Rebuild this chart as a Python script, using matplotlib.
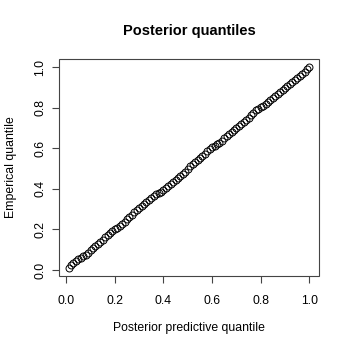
import matplotlib
matplotlib.use("Agg")
import matplotlib.pyplot as plt

plt.rcParams['font.family'] = ['Liberation Sans', 'DejaVu Sans']

predictive_q = [0.01, 0.02, 0.03, 0.04, 0.05, 0.06, 0.07, 0.08, 0.09, 0.10,
                0.11, 0.12, 0.13, 0.14, 0.15, 0.16, 0.17, 0.18, 0.19, 0.20,
                0.21, 0.22, 0.23, 0.24, 0.25, 0.26, 0.27, 0.28, 0.29, 0.30,
                0.31, 0.32, 0.33, 0.34, 0.35, 0.36, 0.37, 0.38, 0.39, 0.40,
                0.41, 0.42, 0.43, 0.44, 0.45, 0.46, 0.47, 0.48, 0.49, 0.50,
                0.51, 0.52, 0.53, 0.54, 0.55, 0.56, 0.57, 0.58, 0.59, 0.60,
                0.61, 0.62, 0.63, 0.64, 0.65, 0.66, 0.67, 0.68, 0.69, 0.70,
                0.71, 0.72, 0.73, 0.74, 0.75, 0.76, 0.77, 0.78, 0.79, 0.80,
                0.81, 0.82, 0.83, 0.84, 0.85, 0.86, 0.87, 0.88, 0.89, 0.90,
                0.91, 0.92, 0.93, 0.94, 0.95, 0.96, 0.97, 0.98, 0.99, 1.00]

empirical_q = [0.010, 0.025, 0.035, 0.045, 0.052, 0.060, 0.068, 0.076, 0.086, 0.097,
               0.108, 0.118, 0.128, 0.139, 0.150, 0.162, 0.172, 0.183, 0.192, 0.200,
               0.207, 0.215, 0.226, 0.238, 0.250, 0.262, 0.272, 0.284, 0.294, 0.305,
               0.314, 0.324, 0.334, 0.345, 0.355, 0.364, 0.372, 0.378, 0.386, 0.395,
               0.404, 0.412, 0.422, 0.432, 0.442, 0.452, 0.462, 0.472, 0.484, 0.498,
               0.510, 0.520, 0.530, 0.540, 0.552, 0.563, 0.573, 0.584, 0.594, 0.604,
               0.612, 0.620, 0.628, 0.638, 0.648, 0.658, 0.668, 0.678, 0.688, 0.698,
               0.708, 0.718, 0.728, 0.738, 0.750, 0.762, 0.775, 0.786, 0.794, 0.802,
               0.810, 0.818, 0.828, 0.838, 0.848, 0.858, 0.868, 0.878, 0.888, 0.898,
               0.908, 0.918, 0.928, 0.938, 0.948, 0.958, 0.968, 0.978, 0.990, 1.000]

ticks = [0.0, 0.2, 0.4, 0.6, 0.8, 1.0]
tick_labels = ["0.0", "0.2", "0.4", "0.6", "0.8", "1.0"]

fig = plt.figure(figsize=(3.5, 3.5), dpi=100)
ax = fig.add_axes([59/350, 74/350, 260/350, 217/350])

ax.plot(predictive_q, empirical_q, linestyle='none', marker='o', markersize=5,
        markerfacecolor='none', markeredgecolor='black', markeredgewidth=0.7)

def rng(v):
    lo, hi = min(v), max(v)
    d = (hi - lo) * 0.04
    return lo - d, hi + d

ax.set_xlim(*rng(predictive_q))
ax.set_ylim(*rng(empirical_q))

for s in ax.spines.values():
    s.set_visible(False)
ax.add_patch(plt.Rectangle((0, 0), 1, 1, transform=ax.transAxes, fill=False,
                           edgecolor='#444444', linewidth=0.8, clip_on=False))

ax.set_xticks(ticks)
ax.set_xticklabels(tick_labels)
ax.set_yticks(ticks)
ax.set_yticklabels(tick_labels, rotation=90, va='center')
ax.tick_params(axis='both', direction='out', length=5.2, width=0.8, color='#444444',
               labelsize=8.8)
ax.tick_params(axis='x', pad=8.2)
ax.tick_params(axis='y', pad=4)

ax.set_title("Posterior quantiles", fontsize=10.5, fontweight='bold', pad=17)
ax.set_xlabel("Posterior predictive quantile", fontsize=8.8, labelpad=11.2)
ax.set_ylabel("Emperical quantile", fontsize=8.8, labelpad=12.3)

fig.savefig("out.png", dpi=100)
